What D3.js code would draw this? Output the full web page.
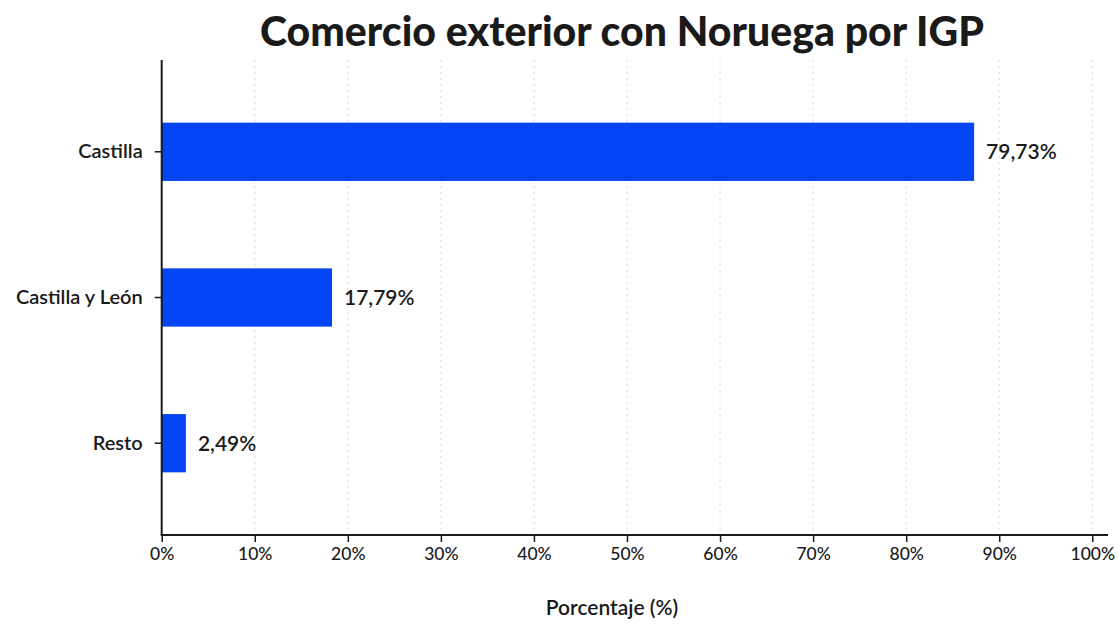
<!DOCTYPE html>
<html>
<head>
<meta charset="utf-8">
<script src="https://cdn.jsdelivr.net/npm/d3@7"></script>
<style>
  body { margin: 0; background: #fff; }
  text { font-family: Lato, "Noto Sans", sans-serif; fill: #1a1a1a; }
</style>
</head>
<body>
<script>
// data
var categories = ["Castilla", "Castilla y León", "Resto"];
var barValues = [87.3, 18.3, 2.6];          // bar lengths as drawn
var valueLabels = ["79,73%", "17,79%", "2,49%"];
var xTicks = [0, 10, 20, 30, 40, 50, 60, 70, 80, 90, 100];

var options = {
  width: 1118,
  height: 635,
  left: 161.7,
  right: 1092.3,
  top: 60,
  bottom: 535
};

var svg = d3.select('body')
  .append('svg')
  .attr('width', options.width)
  .attr('height', options.height);

var x = d3.scaleLinear().domain([0, 100]).range([options.left, options.right]);
var y = d3.scaleBand().domain(categories)
  .range([options.top, options.bottom])
  .paddingInner(0.6)
  .paddingOuter(0.43);

// dotted grid
svg.append('g').selectAll('line')
  .data(xTicks.slice(1))
  .enter().append('line')
  .attr('x1', function(d) { return x(d); })
  .attr('x2', function(d) { return x(d); })
  .attr('y1', options.top)
  .attr('y2', options.bottom)
  .attr('stroke', '#d9d9d9')
  .attr('stroke-width', 1)
  .attr('stroke-dasharray', '2,4');

// bars
svg.append('g').selectAll('rect')
  .data(categories)
  .enter().append('rect')
  .attr('x', x(0))
  .attr('y', function(d) { return y(d); })
  .attr('width', function(d, i) { return x(barValues[i]) - x(0); })
  .attr('height', y.bandwidth())
  .attr('fill', '#0445f5');

// value labels
svg.append('g').selectAll('text')
  .data(categories)
  .enter().append('text')
  .attr('x', function(d, i) { return x(barValues[i]) + 12; })
  .attr('y', function(d) { return y(d) + y.bandwidth() / 2; })
  .attr('dy', '0.35em')
  .attr('font-size', 21)
  .attr('font-weight', 600)
  .text(function(d, i) { return valueLabels[i]; });

// x axis
var xAxis = svg.append('g')
  .attr('transform', 'translate(0,' + options.bottom + ')')
  .call(d3.axisBottom(x).tickValues(xTicks).tickSize(7).tickPadding(6)
    .tickFormat(function(d) { return d + '%'; }));
xAxis.select('.domain').attr('d', 'M' + (options.left - 1) + ',0H1108')
  .attr('stroke', '#1a1a1a').attr('stroke-width', 2);
xAxis.selectAll('.tick line').attr('stroke', '#1a1a1a').attr('stroke-width', 1.5);
xAxis.selectAll('.tick text').attr('font-size', 17.5).attr('font-weight', 500)
  .attr('font-family', 'Lato').attr('fill', '#1a1a1a');

// y axis
var yAxis = svg.append('g')
  .attr('transform', 'translate(' + options.left + ',0)')
  .call(d3.axisLeft(y).tickSize(7).tickPadding(12));
yAxis.select('.domain').attr('d', 'M0,' + options.top + 'V' + options.bottom)
  .attr('stroke', '#1a1a1a').attr('stroke-width', 2);
yAxis.selectAll('.tick line').attr('stroke', '#1a1a1a').attr('stroke-width', 1.5);
yAxis.selectAll('.tick text').attr('font-size', 20).attr('font-weight', 600)
  .attr('font-family', 'Lato').attr('fill', '#1a1a1a');

// axis title
svg.append('text')
  .attr('x', (options.left + options.right) / 2 - 15)
  .attr('y', 615)
  .attr('text-anchor', 'middle')
  .attr('font-size', 21)
  .attr('font-weight', 600)
  .text('Porcentaje (%)');

// chart title
svg.append('text')
  .attr('x', 622)
  .attr('y', 46)
  .attr('text-anchor', 'middle')
  .attr('font-size', 41)
  .attr('font-weight', 900)
  .text('Comercio exterior con Noruega por IGP');
</script>
</body>
</html>
